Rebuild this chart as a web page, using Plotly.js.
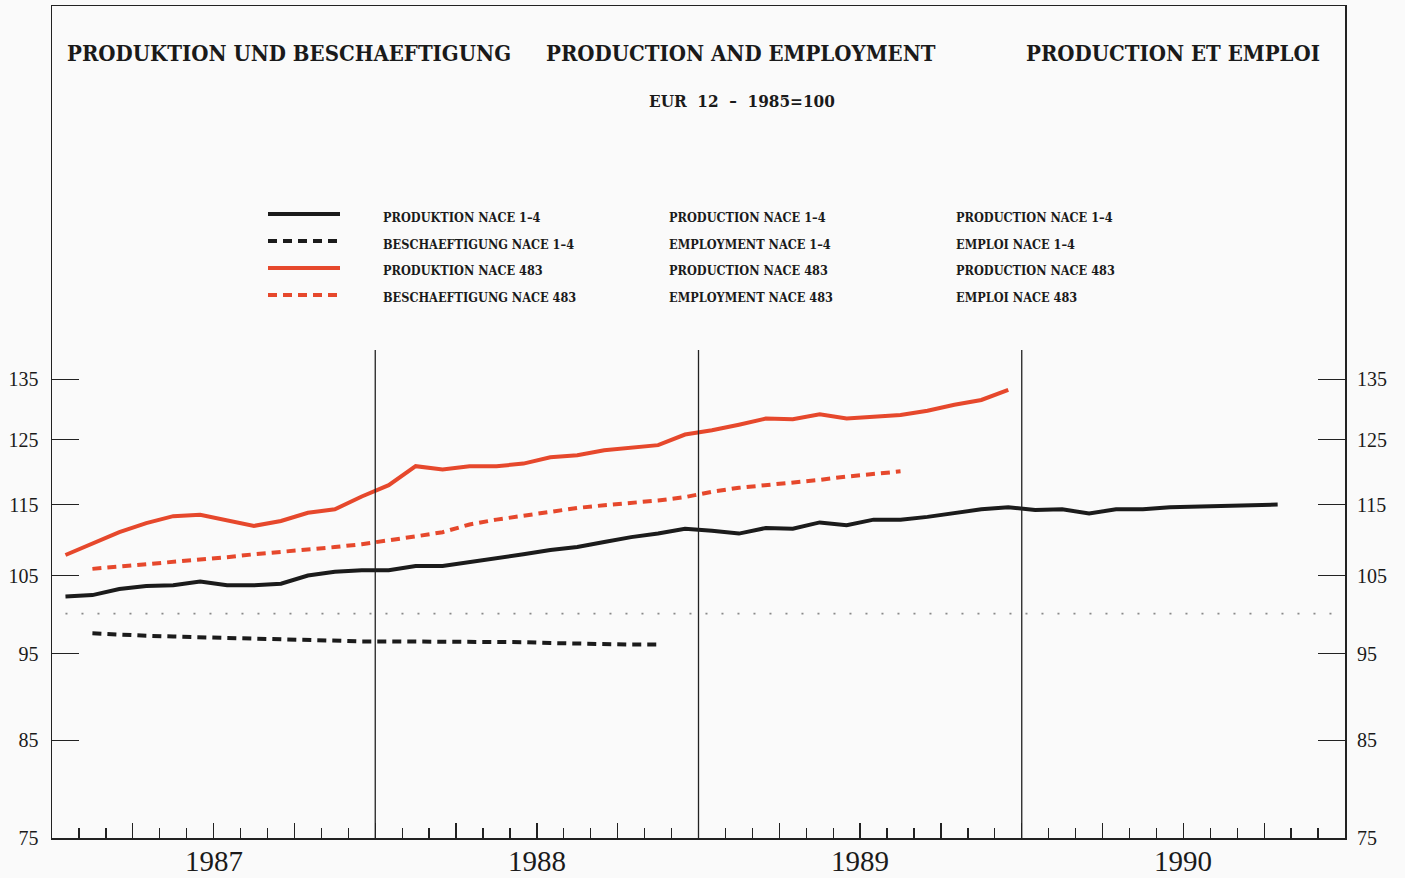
<!DOCTYPE html>
<html>
<head>
<meta charset="utf-8">
<script src="https://cdn.plot.ly/plotly-3.0.1.min.js"></script>
<style>html,body{margin:0;padding:0;background:#fafafa;}#chart{width:1405px;height:878px;}</style>
</head>
<body>
<div id="chart"></div>
<script>
// ---- DATA ----
const months = [
 '1987-01','1987-02','1987-03','1987-04','1987-05','1987-06','1987-07','1987-08','1987-09','1987-10','1987-11','1987-12',
 '1988-01','1988-02','1988-03','1988-04','1988-05','1988-06','1988-07','1988-08','1988-09','1988-10','1988-11','1988-12',
 '1989-01','1989-02','1989-03','1989-04','1989-05','1989-06','1989-07','1989-08','1989-09','1989-10','1989-11','1989-12',
 '1990-01','1990-02','1990-03','1990-04','1990-05','1990-06','1990-07','1990-08','1990-09','1990-10','1990-11','1990-12'
];
const years = ['1987','1988','1989','1990'];
const yTicks = [75, 85, 95, 105, 115, 125, 135];

const prodNace14 = [
 102.2,102.4,103.2,103.6,103.7,104.2,103.7,103.7,103.9,105.0,105.5,105.7,
 105.7,106.3,106.3,106.8,107.3,107.9,108.5,108.9,109.6,110.3,110.8,111.5,
 111.2,110.8,111.6,111.5,112.4,112.0,112.8,112.8,113.2,113.8,114.3,114.6,
 114.2,114.3,113.7,114.3,114.3,114.6,114.7,114.8,114.9,115.0,null,null
];
const empNace14 = [
 null,97.5,97.3,97.2,97.1,97.0,96.9,96.8,96.7,96.6,96.5,96.5,
 96.5,96.5,96.5,96.5,96.4,96.4,96.3,96.2,96.2,96.1,96.1,null,
 null,null,null,null,null,null,null,null,null,null,null,null,
 null,null,null,null,null,null,null,null,null,null,null,null
];
const prodNace483 = [
 107.8,109.4,111.0,112.3,113.3,113.5,112.7,111.9,112.6,113.8,114.3,116.2,
 117.9,120.8,120.3,120.8,120.8,121.2,122.2,122.5,123.3,123.7,124.1,125.8,
 126.5,127.4,128.4,128.3,129.1,128.4,128.7,129.0,129.7,130.7,131.5,133.2,
 null,null,null,null,null,null,null,null,null,null,null,null
];
const empNace483 = [
 null,105.9,106.2,106.6,106.9,107.2,107.5,107.9,108.2,108.5,108.9,109.3,
 109.8,110.4,111.0,112.1,112.8,113.4,114.0,114.5,114.9,115.2,115.6,116.1,
 116.9,117.5,117.9,118.2,118.7,119.2,119.6,120.0,null,null,null,null,
 null,null,null,null,null,null,null,null,null,null,null,null
];
const baseLine = 100;

const legendDE = ['PRODUKTION NACE 1\u20134','BESCHAEFTIGUNG NACE 1\u20134','PRODUKTION NACE 483','BESCHAEFTIGUNG NACE 483'];
const legendEN = ['PRODUCTION NACE 1\u20134','EMPLOYMENT NACE 1\u20134','PRODUCTION NACE 483','EMPLOYMENT NACE 483'];
const legendFR = ['PRODUCTION NACE 1\u20134','EMPLOI NACE 1\u20134','PRODUCTION NACE 483','EMPLOI NACE 483'];
const titles = ['PRODUKTION UND BESCHAEFTIGUNG','PRODUCTION AND EMPLOYMENT','PRODUCTION ET EMPLOI'];
const subtitle = 'EUR  12  \u2013  1985=100';

// ---- STYLE / LAYOUT ----
const W = 1405, H = 878;
const M = {l: 52, r: 60, t: 6, b: 40};
const PW = W - M.l - M.r, PH = H - M.t - M.b;
const px = v => (v - M.l) / PW;           // pixel -> paper x
const py = v => (H - M.b - v) / PH;        // pixel -> paper y

const BLACK = '#1b1b1b', RED = '#e6482c';
const serifC = 'DejaVu Serif Condensed, DejaVu Serif, Liberation Serif, serif';
const serif = 'Liberation Serif, serif';

const xIdx = months.map((m, i) => i);
const yMin = 75, yTop = 140.2;
const logMin = Math.log10(yMin);
const logTopGraph = Math.log10(yTop);
const graphPx = 488;
const logMax = logMin + (logTopGraph - logMin) * PH / graphPx;

const series = [
  {y: prodNace14, color: BLACK, dash: 'solid', axis: 'y2'},
  {y: empNace14, color: BLACK, dash: '9px,6px', axis: 'y'},
  {y: prodNace483, color: RED, dash: 'solid', axis: 'y'},
  {y: empNace483, color: RED, dash: '9px,6px', axis: 'y'}
];

const traces = series.map((s, k) => ({
  x: xIdx, y: s.y, type: 'scatter', mode: 'lines', name: legendEN[k],
  line: {color: s.color, width: 4, dash: s.dash}, connectgaps: false,
  hoverinfo: 'skip', xaxis: 'x', yaxis: s.axis
}));

const shapes = [];
for (let k = 1; k < years.length; k++) {
  shapes.push({type: 'line', xref: 'x', yref: 'y', x0: k*12 - 0.5, x1: k*12 - 0.5, y0: yMin, y1: yTop,
    line: {color: '#222', width: 1.3}});
}
shapes.push({type: 'line', xref: 'x', yref: 'y', x0: 0, x1: months.length - 1, y0: baseLine, y1: baseLine,
  line: {color: '#8a8a8a', width: 1.6, dash: '2px,14px'}});
const legRowY = [214, 241, 268, 295];
series.forEach((s, k) => {
  shapes.push({type: 'line', xref: 'paper', yref: 'paper', x0: px(268), x1: px(340), y0: py(legRowY[k]), y1: py(legRowY[k]),
    line: {color: s.color, width: 4, dash: s.dash === 'solid' ? 'solid' : '9px,6px'}});
});

const annotations = [];
const tFont = {family: serifC, size: 22, color: '#1a1a1a', weight: 'bold'};
annotations.push({xref: 'paper', yref: 'paper', x: px(65), y: py(53), xanchor: 'left', yanchor: 'middle', text: titles[0], showarrow: false, font: tFont});
annotations.push({xref: 'paper', yref: 'paper', x: px(544), y: py(53), xanchor: 'left', yanchor: 'middle', text: titles[1], showarrow: false, font: tFont});
annotations.push({xref: 'paper', yref: 'paper', x: px(1322), y: py(53), xanchor: 'right', yanchor: 'middle', text: titles[2], showarrow: false, font: tFont});
annotations.push({xref: 'paper', yref: 'paper', x: px(741.5), y: py(101), xanchor: 'center', yanchor: 'middle', text: subtitle, showarrow: false,
  font: {family: serifC, size: 17, color: '#1a1a1a', weight: 'bold'}});
const lFont = {family: serifC, size: 12.6, color: '#1a1a1a', weight: 'bold'};
const legTextY = [217, 244, 270, 297];
[[legendDE, 381], [legendEN, 667], [legendFR, 954]].forEach(([arr, xp]) => {
  arr.forEach((t, k) => annotations.push({xref: 'paper', yref: 'paper', x: px(xp), y: py(legTextY[k]), xanchor: 'left', yanchor: 'middle',
    text: t, showarrow: false, font: lFont}));
});
years.forEach((yr, k) => annotations.push({xref: 'x', yref: 'paper', x: k*12 + 5.5, y: py(861), xanchor: 'center', yanchor: 'middle',
  text: yr, showarrow: false, font: {family: serif, size: 29, color: '#1a1a1a'}}));

const quarterTicks = [];
for (let q = 1; q < 16; q++) quarterTicks.push(q*3 - 0.5);

const yAxisCommon = {
  type: 'log', range: [logMin, logMax], autorange: false, fixedrange: true,
  tickmode: 'array', tickvals: yTicks, ticktext: yTicks.map(String),
  ticks: 'inside', ticklen: 27, tickwidth: 1.3, tickcolor: '#222',
  showgrid: false, zeroline: false,
  tickfont: {family: serif, size: 20, color: '#1a1a1a'}
};

const layout = {
  width: W, height: H, margin: M,
  paper_bgcolor: '#fafafa', plot_bgcolor: '#fafafa',
  showlegend: false, hovermode: false,
  xaxis: {
    range: [-0.5, months.length - 0.5], autorange: false, fixedrange: true,
    tickmode: 'array', tickvals: quarterTicks, showticklabels: false,
    ticks: 'inside', ticklen: 15, tickwidth: 1.3, tickcolor: '#222',
    minor: {tickmode: 'linear', tick0: -0.5, dtick: 1, ticks: 'inside', ticklen: 10, tickwidth: 1.3, tickcolor: '#222', showgrid: false},
    showgrid: false, zeroline: false,
    showline: true, mirror: true, linecolor: '#222', linewidth: 1.5
  },
  yaxis: Object.assign({}, yAxisCommon, {side: 'left', showline: true, mirror: true, linecolor: '#222', linewidth: 1.5, ticklabelstandoff: 8}),
  yaxis2: Object.assign({}, yAxisCommon, {side: 'right', overlaying: 'y', showline: false, anchor: 'x', ticklabelstandoff: 11}),
  shapes: shapes,
  annotations: annotations
};

Plotly.newPlot('chart', traces, layout, {displayModeBar: false, staticPlot: true});
</script>
</body>
</html>
